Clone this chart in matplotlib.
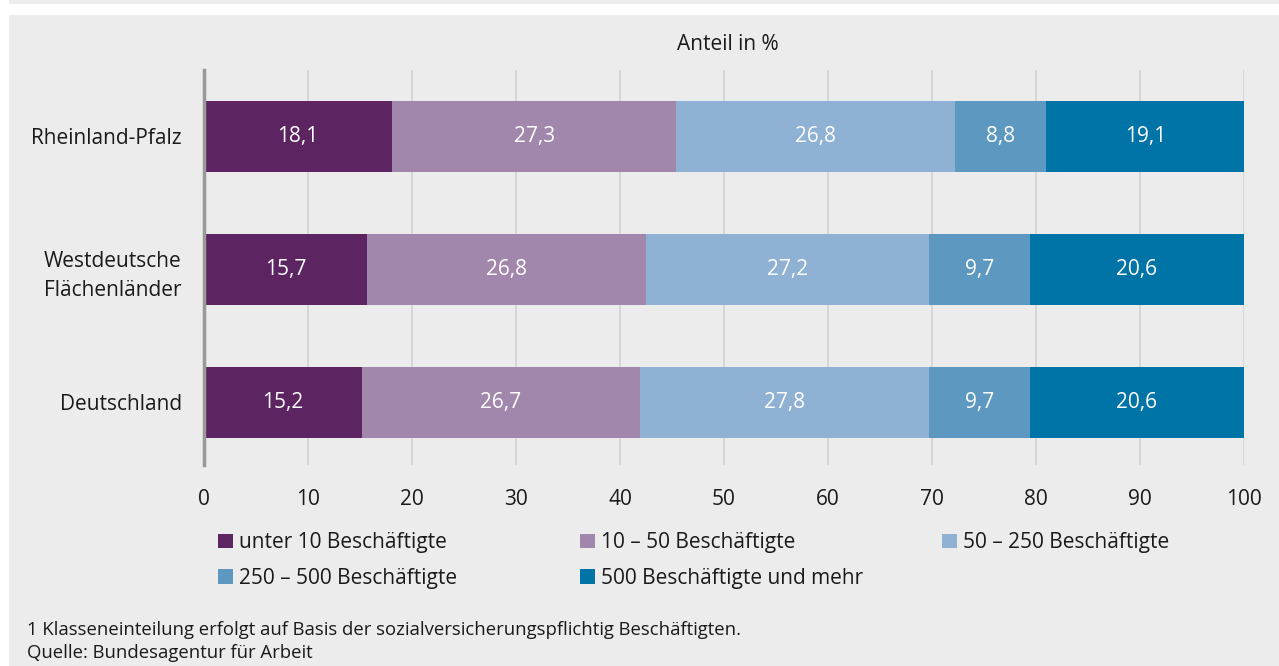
import numpy as np
import matplotlib.pyplot as plt
from matplotlib.patches import Rectangle

# Anteile der Betriebsgrößenklassen in %
regions = ["Rheinland-Pfalz", "Westdeutsche\nFlächenländer", "Deutschland"]
classes = ["unter 10 Beschäftigte", "10 – 50 Beschäftigte", "50 – 250 Beschäftigte",
           "250 – 500 Beschäftigte", "500 Beschäftigte und mehr"]
shares = [
    [18.1, 15.7, 15.2],
    [27.3, 26.8, 26.7],
    [26.8, 27.2, 27.8],
    [8.8, 9.7, 9.7],
    [19.1, 20.6, 20.6],
]
colors = ["#5c2562", "#a287ac", "#8fb1d4", "#5d98c0", "#0073a7"]
x_ticks = np.arange(0, 101, 10)

plt.rcParams['font.family'] = ['Open Sans', 'DejaVu Sans']
text_col = "#1a1a1a"
panel = "#ececec"

W, H = 1279, 666
fig = plt.figure(figsize=(W / 100, H / 100), dpi=100, facecolor="white")

# grauer Hintergrund des Kastens
fig.patches.append(Rectangle((9 / W, 0), 1 - 9 / W, 1 - 15 / H, transform=fig.transFigure,
                             facecolor=panel, edgecolor="none", zorder=-10))
fig.patches.append(Rectangle((9 / W, 1 - 4 / H), 1 - 9 / W, 4 / H, transform=fig.transFigure,
                             facecolor=panel, edgecolor="none", zorder=-10))

ax = fig.add_axes([204 / W, 1 - 465 / H, 1040 / W, 395 / H])
ax.set_facecolor(panel)

y = np.arange(len(regions))
left = np.zeros(len(regions))
for vals, col, name in zip(shares, colors, classes):
    vals = np.array(vals)
    ax.barh(y, vals, left=left, height=0.54, color=col, label=name, zorder=3)
    for yi, l, v in zip(y, left, vals):
        ax.text(l + v / 2, yi, f"{v:.1f}".replace(".", ","), ha="center", va="center",
                color="white", fontsize=15, zorder=4)
    left += vals

ax.set_xlim(0, 100)
ax.set_ylim(2.47, -0.5)
ax.set_xticks(x_ticks)
ax.set_yticks(y)
ax.set_yticklabels(regions, ha="right", multialignment="right", linespacing=1.5)
ax.tick_params(axis="both", length=0, labelsize=15, colors=text_col)
ax.tick_params(axis="x", pad=17)
ax.tick_params(axis="y", pad=16)
ax.grid(axis="x", color="#d2d2d2", linewidth=1.2, zorder=0)
for s in ["top", "right", "bottom"]:
    ax.spines[s].set_visible(False)
ax.spines["left"].set_color("#999999")
ax.spines["left"].set_linewidth(2.5)
ax.spines["left"].set_zorder(5)

fig.text(728 / W, 1 - 44 / H, "Anteil in %", ha="center", va="center",
         fontsize=15, color=text_col)

# Legende zeilenweise: drei Spalten mit festen Positionen
handles, labels = ax.get_legend_handles_labels()
col_x = [210, 572, 934]
for c, x0 in enumerate(col_x):
    idx = [i for i in range(len(handles)) if i % 3 == c]
    leg = fig.legend([handles[i] for i in idx], [labels[i] for i in idx],
                     loc="upper left", bbox_to_anchor=(x0 / W, 1 - 524 / H),
                     frameon=False, fontsize=15, handlelength=0.7, handleheight=0.7,
                     handletextpad=0.3, labelspacing=0.7, borderaxespad=0,
                     labelcolor=text_col)

fig.text(27 / W, 1 - 630 / H, "1 Klasseneinteilung erfolgt auf Basis der sozialversicherungspflichtig Beschäftigten.",
         ha="left", va="center", fontsize=13.3, color=text_col)
fig.text(27 / W, 1 - 653 / H, "Quelle: Bundesagentur für Arbeit",
         ha="left", va="center", fontsize=13.3, color=text_col)

fig.savefig("out.png", dpi=100, facecolor="white")
